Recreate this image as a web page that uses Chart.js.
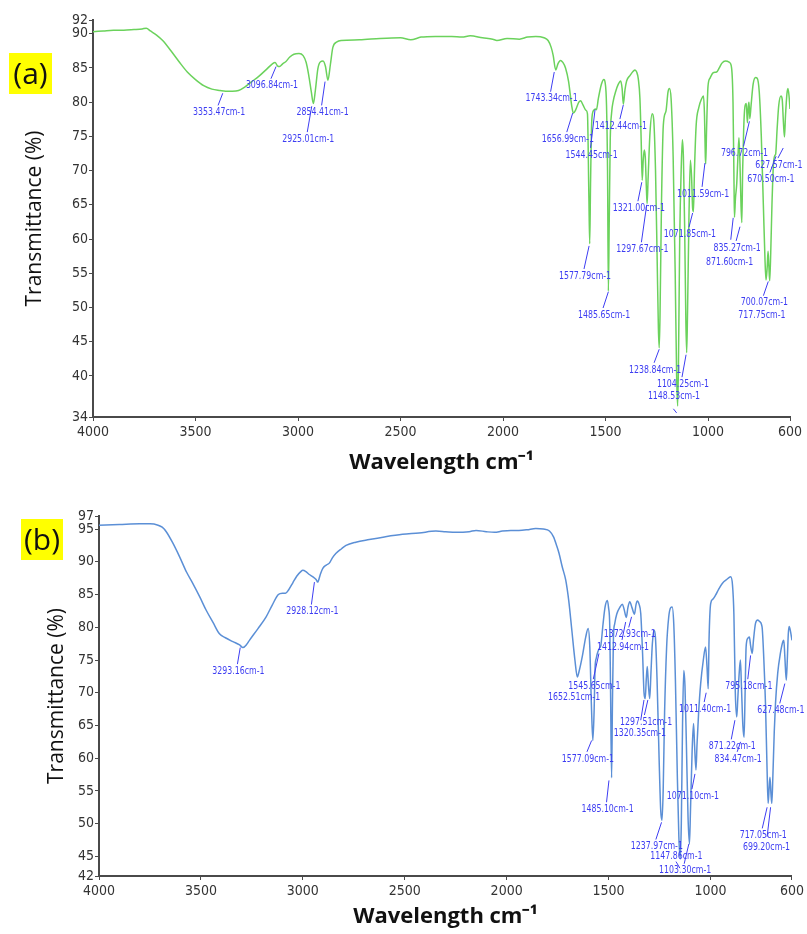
<!DOCTYPE html>
<html>
<head>
<meta charset="utf-8">
<title>FTIR spectra</title>
<script src="https://cdn.jsdelivr.net/npm/chart.js@4.4.0/dist/chart.umd.min.js"></script>
<style>
  html, body { margin: 0; padding: 0; background: #fff; }
  #wrap { position: relative; width: 807px; height: 934px; overflow: hidden; }
  .panel { position: absolute; left: 0; width: 807px; }
  .tag {
    position: absolute; background: #ffff00; color: #111;
    font-family: 'Open Sans', sans-serif; font-size: 30px; line-height: 40px; text-align: center;
  }
</style>
</head>
<body>
<div id="wrap">
  <div class="panel" style="top:0;height:480px"><canvas id="chartA" width="807" height="480"></canvas></div>
  <div class="panel" style="top:480px;height:454px"><canvas id="chartB" width="807" height="454"></canvas></div>
  <div class="tag" style="left:9px;top:53px;width:43px;height:41px">(a)</div>
  <div class="tag" style="left:21px;top:519px;width:42px;height:41px">(b)</div>
</div>
<script>
// ─── DATA ───
const X_TICKS = [4000, 3500, 3000, 2500, 2000, 1500, 1000, 600];
const Y_TICKS_A = [34, 40, 45, 50, 55, 60, 65, 70, 75, 80, 85, 90, 92];
const Y_TICKS_B = [42, 45, 50, 55, 60, 65, 70, 75, 80, 85, 90, 95, 97];

// spectrum (a): wavenumber / transmittance
const wnA = [4000, 3950, 3900, 3850, 3800, 3760, 3740, 3720, 3690, 3660, 3620, 3580, 3540, 3500, 3460, 3420, 3380, 3353, 3320, 3290,
  3260, 3230, 3190, 3150, 3125, 3112, 3100, 3090, 3075, 3060, 3040, 3020, 2995, 2975, 2960, 2948, 2935, 2925, 2915, 2903,
  2890, 2878, 2866, 2854, 2842, 2830, 2810, 2790, 2700, 2600, 2500, 2450, 2400, 2330, 2250, 2200, 2160, 2100, 2050, 2030,
  1980, 1920, 1880, 1840, 1800, 1780, 1765, 1755, 1743, 1732, 1720, 1708, 1695, 1680, 1665, 1657, 1645, 1630, 1621, 1610,
  1595, 1588, 1581, 1577, 1573, 1567, 1558, 1548, 1544, 1535, 1520, 1508, 1502, 1495, 1490, 1486, 1482, 1477, 1470, 1462,
  1450, 1438, 1426, 1419, 1413, 1405, 1397, 1380, 1365, 1356, 1348, 1340, 1332, 1326, 1321, 1316, 1311, 1306, 1300, 1297,
  1292, 1283, 1272, 1265, 1256, 1248, 1242, 1238, 1234, 1227, 1218, 1205, 1195, 1188, 1180, 1170, 1160, 1153, 1148, 1144,
  1138, 1130, 1125, 1120, 1114, 1108, 1104, 1100, 1093, 1086, 1080, 1075, 1071, 1066, 1058, 1045, 1031, 1022, 1017, 1013,
  1011, 1007, 1000, 990, 975, 958, 945, 932, 915, 895, 885, 878, 873, 871, 866, 860, 854, 849, 844, 839,
  835, 831, 826, 820, 813, 808, 803, 800, 796, 790, 780, 768, 760, 750, 740, 730, 722, 717, 711, 707,
  703, 699, 694, 688, 681, 674, 670, 663, 655, 644, 638, 632, 627, 622, 615, 610, 605, 600];
const tA = [90.3, 90.4, 90.5, 90.5, 90.6, 90.7, 90.8, 90.4, 89.8, 89.0, 87.5, 85.9, 84.4, 83.3, 82.4, 81.9, 81.7, 81.6, 81.6, 81.7,
  82.2, 82.9, 83.8, 84.9, 85.6, 85.8, 85.3, 85.2, 85.6, 85.9, 86.6, 87.0, 87.1, 86.8, 85.8, 84.0, 81.5, 79.8, 81.8, 84.9,
  85.9, 86.0, 85.2, 83.2, 85.5, 88.0, 88.8, 89.0, 89.1, 89.3, 89.4, 89.1, 89.5, 89.6, 89.6, 89.5, 89.7, 89.4, 89.2, 89.0,
  89.3, 89.2, 89.5, 89.6, 89.4, 89.0, 88.0, 86.8, 84.7, 85.6, 86.1, 85.8, 85.0, 83.0, 79.5, 78.4, 78.9, 80.0, 80.2, 79.6,
  78.8, 78.3, 66.0, 59.3, 68.0, 77.3, 78.8, 79.0, 78.9, 80.5, 82.6, 83.3, 82.9, 79.5, 70.0, 52.4, 62.0, 74.4, 78.5, 80.2,
  81.6, 82.6, 83.1, 82.0, 79.7, 81.8, 83.1, 83.9, 84.5, 84.7, 84.4, 83.4, 80.5, 74.5, 68.6, 71.5, 73.0, 72.0, 67.0, 65.2,
  69.0, 75.5, 78.3, 77.5, 70.0, 57.0, 47.0, 44.1, 49.0, 65.0, 76.6, 78.7, 81.5, 82.0, 80.5, 72.0, 55.0, 40.0, 35.6, 42.0,
  60.0, 71.0, 74.5, 72.0, 62.0, 48.0, 43.4, 49.0, 63.0, 71.5, 69.0, 64.5, 64.0, 70.0, 76.5, 79.2, 80.5, 80.9, 78.0, 72.0,
  71.0, 76.0, 82.3, 83.5, 84.3, 84.4, 85.0, 85.7, 86.0, 85.8, 85.0, 80.0, 68.0, 63.2, 66.0, 68.0, 72.0, 74.8, 71.0, 65.0,
  62.4, 70.0, 76.0, 79.3, 79.8, 77.0, 79.5, 80.0, 77.6, 79.5, 82.6, 83.6, 83.5, 81.5, 75.0, 65.0, 57.0, 54.0, 56.0, 58.2,
  56.0, 53.9, 58.0, 65.0, 70.8, 72.2, 72.4, 76.0, 79.5, 80.9, 80.4, 77.0, 74.9, 78.0, 81.2, 82.0, 81.0, 79.0];

// spectrum (b): wavenumber / transmittance
const wnB = [4000, 3900, 3800, 3750, 3710, 3690, 3670, 3640, 3605, 3570, 3540, 3505, 3474, 3440, 3409, 3380, 3343, 3310, 3294, 3275,
  3262, 3220, 3180, 3150, 3120, 3100, 3085, 3070, 3049, 3030, 3010, 3000, 2985, 2970, 2950, 2935, 2927, 2915, 2902, 2885,
  2870, 2855, 2837, 2810, 2788, 2740, 2674, 2600, 2511, 2430, 2347, 2300, 2250, 2184, 2150, 2100, 2060, 2021, 1980, 1940,
  1900, 1857, 1820, 1790, 1770, 1755, 1743, 1727, 1710, 1695, 1680, 1665, 1653, 1645, 1629, 1612, 1600, 1592, 1584, 1577,
  1571, 1566, 1560, 1555, 1545, 1538, 1527, 1517, 1506, 1500, 1494, 1490, 1485, 1481, 1476, 1470, 1460, 1445, 1432, 1424,
  1413, 1405, 1396, 1385, 1373, 1365, 1359, 1350, 1342, 1333, 1326, 1320, 1315, 1310, 1304, 1298, 1292, 1285, 1277, 1270,
  1262, 1252, 1244, 1238, 1232, 1225, 1215, 1205, 1195, 1188, 1180, 1172, 1163, 1155, 1148, 1143, 1137, 1131, 1125, 1118,
  1110, 1103, 1098, 1090, 1083, 1078, 1071, 1066, 1058, 1048, 1035, 1024, 1017, 1011, 1007, 999, 988, 975, 960, 942,
  920, 901, 892, 885, 878, 871, 866, 860, 853, 848, 841, 835, 830, 825, 817, 809, 803, 795, 789, 779,
  768, 760, 747, 738, 730, 722, 717, 712, 708, 703, 699, 694, 687, 681, 670, 657, 645, 640, 635, 628,
  623, 618, 614, 608, 600];
const tB = [95.6, 95.7, 95.8, 95.8, 95.6, 95.3, 94.6, 93.0, 90.8, 88.4, 86.7, 84.6, 82.6, 80.7, 79.0, 78.4, 77.8, 77.3, 76.9, 77.4,
  78.0, 79.8, 81.6, 83.4, 85.0, 85.2, 85.2, 85.7, 86.8, 87.8, 88.5, 88.7, 88.5, 88.1, 87.7, 87.3, 86.9, 88.0, 89.0, 89.5,
  89.8, 90.6, 91.3, 92.0, 92.5, 93.0, 93.4, 93.8, 94.2, 94.4, 94.7, 94.6, 94.5, 94.6, 94.8, 94.6, 94.5, 94.7, 94.8, 94.8,
  94.9, 95.1, 95.0, 94.7, 93.8, 92.5, 91.3, 89.2, 87.2, 84.0, 79.5, 75.0, 72.4, 73.2, 75.5, 78.5, 79.8, 77.0, 68.0, 62.7,
  67.0, 73.9, 75.3, 76.0, 76.8, 77.2, 80.5, 83.1, 84.1, 83.0, 80.1, 70.0, 57.0, 68.0, 78.5, 80.5, 82.0, 83.0, 83.5, 82.8,
  81.5, 83.0, 83.9, 83.0, 82.0, 83.5, 84.0, 83.5, 82.1, 76.0, 70.0, 69.1, 72.0, 74.0, 71.0, 69.1, 73.0, 77.5, 79.6, 78.5,
  72.0, 60.0, 52.0, 50.5, 55.0, 67.0, 77.0, 81.5, 83.0, 83.1, 80.5, 72.0, 58.0, 48.0, 44.6, 50.0, 65.0, 73.4, 71.0, 62.0,
  51.0, 46.9, 52.0, 61.0, 65.3, 62.0, 58.2, 62.0, 67.0, 71.4, 75.0, 77.0, 74.0, 70.6, 78.0, 83.6, 84.3, 84.9, 85.8, 86.7,
  87.3, 87.7, 86.5, 82.0, 70.0, 66.3, 69.0, 72.5, 75.0, 71.0, 65.0, 63.2, 70.0, 77.0, 78.3, 78.5, 77.2, 76.0, 78.0, 80.6,
  81.1, 80.9, 80.1, 75.0, 68.3, 58.0, 53.1, 55.5, 57.1, 54.5, 53.1, 57.0, 64.0, 68.3, 73.0, 76.0, 77.8, 78.0, 75.5, 71.9,
  75.0, 79.0, 80.1, 79.5, 78.0];

// peak labels: [text, text wn, text T, tip wn, tip T, (leader start wn, T)]
const labelsA = [
  ['3353.47cm-1', 3385, 78.5, 3367, 81.3],
  ['3096.84cm-1', 3127, 82.4, 3107, 85.2],
  ['2854.41cm-1', 2880, 78.5, 2868, 83.0],
  ['2925.01cm-1', 2950, 74.6, 2933, 79.4],
  ['1743.34cm-1', 1763, 80.5, 1750, 84.4],
  ['1656.99cm-1', 1684, 74.6, 1660, 78.4],
  ['1544.45cm-1', 1568, 72.3, 1551, 78.9],
  ['1412.44cm-1', 1425, 76.5, 1413, 79.6],
  ['1577.79cm-1', 1600, 54.6, 1580, 59.0],
  ['1485.65cm-1', 1507, 48.9, 1486, 52.3],
  ['1321.00cm-1', 1337, 64.5, 1323, 68.3],
  ['1297.67cm-1', 1320, 58.5, 1299, 65.0],
  ['1011.59cm-1', 1024, 66.6, 1015, 71.1],
  ['1071.85cm-1', 1088, 60.7, 1075, 63.8],
  ['1238.84cm-1', 1258, 40.9, 1238, 43.9],
  ['1104.25cm-1', 1122, 38.8, 1107, 43.1],
  ['1148.53cm-1', 1166, 37.0, 1153, 34.6, 1169, 35.2],
  ['796.72cm-1', 822, 72.5, 798, 77.2],
  ['627.57cm-1', 654, 70.8, 633, 73.3],
  ['670.50cm-1', 693, 68.7, 668, 72.1],
  ['835.27cm-1', 858, 58.7, 844, 61.8],
  ['871.60cm-1', 895, 56.6, 877, 63.1, 889, 59.9],
  ['700.07cm-1', 725, 50.7, 706, 53.8],
  ['717.75cm-1', 737, 48.9],
];
const labelsB = [
  ['3293.16cm-1', 3316, 73.3, 3307, 76.9],
  ['2928.12cm-1', 2953, 82.4, 2943, 86.9],
  ['1372.93cm-1', 1396, 78.9, 1387, 81.6],
  ['1412.94cm-1', 1429, 77.0, 1416, 80.8],
  ['1545.65cm-1', 1570, 71.0, 1547, 76.0],
  ['1652.51cm-1', 1669, 69.3],
  ['1297.51cm-1', 1316, 65.5, 1307, 68.9, 1324, 66.6],
  ['1320.35cm-1', 1346, 63.8, 1326, 68.9, 1342, 65.8],
  ['1577.09cm-1', 1601, 59.9, 1583, 62.7],
  ['1485.10cm-1', 1505, 52.2, 1498, 56.6],
  ['1011.40cm-1', 1026, 67.5, 1021, 70.0],
  ['795.18cm-1', 812, 71.0, 803, 75.7],
  ['627.48cm-1', 655, 67.3, 635, 71.4],
  ['871.22cm-1', 893, 61.8, 880, 65.8],
  ['834.47cm-1', 864, 59.9, 852, 62.5],
  ['1071.10cm-1', 1086, 54.2, 1076, 57.6],
  ['1237.97cm-1', 1263, 46.5, 1240, 50.2],
  ['1147.86cm-1', 1167, 45.0, 1150, 43.2, 1169, 44.2],
  ['1103.30cm-1', 1124, 42.8, 1106, 46.9],
  ['717.05cm-1', 741, 48.2, 722, 52.5],
  ['699.20cm-1', 725, 46.4, 705, 52.5, 722, 48.0],
];

// ─── STYLE ───
const AXIS_COLOR = '#4a4a4a';
const TICK_FONT = { family: '"Liberation Sans Narrow", "Arial Narrow", "DejaVu Sans Condensed", sans-serif', size: 14 };
const LABEL_FONT = '10.5px "Liberation Sans Narrow", "Arial Narrow", "DejaVu Sans Condensed", sans-serif';
const LABEL_COLOR = '#3d3df2';
const LABEL_SQUEEZE = 0.83;

// ── peak annotation plugin ──
const peakLabels = {
  id: 'peakLabels',
  afterDatasetsDraw(chart, args, opts) {
    const { ctx, scales: { x, y } } = chart;
    ctx.save();
    ctx.font = LABEL_FONT;
    ctx.fillStyle = LABEL_COLOR;
    ctx.strokeStyle = LABEL_COLOR;
    ctx.lineWidth = 1;
    ctx.textAlign = 'center';
    ctx.textBaseline = 'middle';
    opts.labels.forEach(([text, tw, tt, pw, pt, fw, ft]) => {
      const tx = x.getPixelForValue(tw), ty = y.getPixelForValue(tt);
      if (pw != null) {
        const px = x.getPixelForValue(pw), py = y.getPixelForValue(pt);
        let fx = tx - 1, fy = py < ty ? ty - 7 : ty + 6;
        if (fw != null) { fx = x.getPixelForValue(fw); fy = y.getPixelForValue(ft); }
        ctx.beginPath();
        ctx.moveTo(fx, fy);
        ctx.lineTo(px, py);
        ctx.stroke();
      }
      // narrow the label glyphs like the instrument software does
      ctx.save();
      ctx.translate(tx, ty);
      ctx.scale(LABEL_SQUEEZE, 1);
      ctx.fillText(text, 0, 0);
      ctx.restore();
    });
    ctx.restore();
  },
};

// ── shared spectrum chart ──
function renderSpectrum(id, cfg) {
  const ctx = document.getElementById(id).getContext('2d');
  return new Chart(ctx, {
    type: 'line',
    data: {
      datasets: [{
        data: cfg.wn.map((w, i) => ({ x: w, y: cfg.t[i] })),
        borderColor: cfg.color, borderWidth: 1.5,
        pointRadius: 0, fill: false, cubicInterpolationMode: 'monotone',
      }],
    },
    options: {
      responsive: false, animation: false,
      layout: { padding: cfg.padding },
      plugins: { legend: { display: false }, tooltip: { enabled: false }, peakLabels: { labels: cfg.labels } },
      scales: {
        x: {
          type: 'linear', reverse: true, min: 600, max: 4000,
          afterBuildTicks: s => { s.ticks = X_TICKS.map(v => ({ value: v })); },
          afterFit: s => { s.height = cfg.xHeight; },
          grid: { drawOnChartArea: false, tickLength: 4, color: AXIS_COLOR },
          border: { color: AXIS_COLOR, width: 2 },
          ticks: { color: '#333', font: TICK_FONT, padding: 3, maxRotation: 0, autoSkip: false, callback: v => String(v) },
          title: { display: true, text: 'Wavelength cm⁻¹', color: '#111', font: { family: '"Open Sans", sans-serif', size: 22, weight: 'bold' } },
        },
        y: {
          type: 'linear', min: cfg.yTicks[0], max: cfg.yTicks[cfg.yTicks.length - 1],
          afterBuildTicks: s => { s.ticks = cfg.yTicks.map(v => ({ value: v })); },
          afterFit: s => { s.width = cfg.yWidth; },
          grid: { drawOnChartArea: false, tickLength: 4, color: AXIS_COLOR },
          border: { color: AXIS_COLOR, width: 2 },
          ticks: { color: '#333', font: TICK_FONT, padding: 1, autoSkip: false, callback: v => String(v) },
          title: { display: true, text: 'Transmittance (%)', color: '#111', font: { family: '"Open Sans", sans-serif', size: 21 } },
        },
      },
    },
    plugins: [peakLabels],
  });
}

renderSpectrum('chartA', {
  wn: wnA, t: tA, labels: labelsA, yTicks: Y_TICKS_A, color: '#6bd25c',
  padding: { left: 18, right: 17, top: 20, bottom: 0 }, yWidth: 75, xHeight: 63,
});
renderSpectrum('chartB', {
  wn: wnB, t: tB, labels: labelsB, yTicks: Y_TICKS_B, color: '#5b8fd6',
  padding: { left: 40, right: 14, top: 36, bottom: 0 }, yWidth: 59, xHeight: 58,
});
</script>
</body>
</html>
